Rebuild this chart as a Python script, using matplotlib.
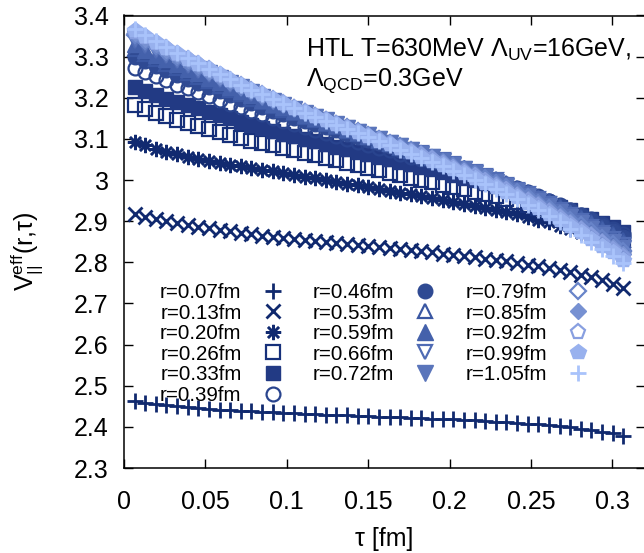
import matplotlib
matplotlib.use("Agg")
import matplotlib.pyplot as plt
import numpy as np

plt.rcParams['font.family'] = ['Liberation Sans', 'DejaVu Sans']
plt.rcParams['mathtext.fontset'] = 'custom'
plt.rcParams['mathtext.rm'] = 'Liberation Sans'
plt.rcParams['mathtext.it'] = 'Liberation Sans'
plt.rcParams['mathtext.bf'] = 'Liberation Sans:bold'

# Euclidean time slices (fm)
tau = [0.0065, 0.0131, 0.0196, 0.0261, 0.0326, 0.0392, 0.0457, 0.0522, 0.0587, 0.0653,
       0.0718, 0.0783, 0.0848, 0.0914, 0.0979, 0.1044, 0.1109, 0.1175, 0.1240, 0.1305,
       0.1370, 0.1436, 0.1501, 0.1566, 0.1631, 0.1697, 0.1762, 0.1827, 0.1892, 0.1958,
       0.2023, 0.2088, 0.2153, 0.2219, 0.2284, 0.2349, 0.2414, 0.2480, 0.2545, 0.2610,
       0.2675, 0.2741, 0.2806, 0.2871, 0.2936, 0.3002, 0.3067]

r_values = [0.07, 0.13, 0.20, 0.26, 0.33, 0.39, 0.46, 0.53, 0.59, 0.66, 0.72, 0.79,
            0.85, 0.92, 0.99, 1.05]

v_r007 = [2.463, 2.459, 2.456, 2.453, 2.450, 2.448, 2.446, 2.444, 2.442, 2.441,
          2.439, 2.438, 2.437, 2.435, 2.434, 2.433, 2.432, 2.431, 2.430, 2.429,
          2.428, 2.427, 2.426, 2.425, 2.424, 2.423, 2.422, 2.421, 2.420, 2.419,
          2.418, 2.417, 2.416, 2.414, 2.413, 2.411, 2.410, 2.408, 2.406, 2.404,
          2.401, 2.399, 2.396, 2.392, 2.388, 2.384, 2.378]
v_r013 = [2.917, 2.910, 2.905, 2.900, 2.895, 2.891, 2.887, 2.883, 2.879, 2.875,
          2.872, 2.868, 2.865, 2.862, 2.859, 2.857, 2.854, 2.852, 2.849, 2.847,
          2.844, 2.842, 2.839, 2.837, 2.834, 2.832, 2.829, 2.827, 2.824, 2.821,
          2.818, 2.815, 2.812, 2.809, 2.806, 2.802, 2.798, 2.794, 2.790, 2.786,
          2.781, 2.776, 2.770, 2.764, 2.757, 2.748, 2.737]
v_r020 = [3.093, 3.084, 3.076, 3.069, 3.063, 3.057, 3.052, 3.047, 3.042, 3.037,
          3.033, 3.029, 3.025, 3.021, 3.017, 3.012, 3.008, 3.004, 3.000, 2.995,
          2.991, 2.987, 2.982, 2.978, 2.974, 2.969, 2.965, 2.960, 2.956, 2.951,
          2.947, 2.942, 2.938, 2.933, 2.928, 2.922, 2.917, 2.911, 2.904, 2.897,
          2.889, 2.881, 2.872, 2.862, 2.851, 2.839, 2.825]
v_r026 = [3.182, 3.172, 3.163, 3.155, 3.147, 3.139, 3.131, 3.124, 3.117, 3.110,
          3.103, 3.096, 3.090, 3.084, 3.078, 3.072, 3.066, 3.060, 3.054, 3.048,
          3.042, 3.036, 3.030, 3.024, 3.018, 3.012, 3.006, 3.000, 2.995, 2.989,
          2.984, 2.978, 2.972, 2.966, 2.960, 2.954, 2.947, 2.940, 2.933, 2.925,
          2.917, 2.908, 2.899, 2.889, 2.878, 2.867, 2.855]
v_r033 = [3.225, 3.216, 3.207, 3.198, 3.190, 3.182, 3.174, 3.166, 3.158, 3.150,
          3.142, 3.134, 3.127, 3.120, 3.113, 3.107, 3.100, 3.094, 3.087, 3.081,
          3.075, 3.069, 3.063, 3.057, 3.050, 3.044, 3.038, 3.032, 3.026, 3.020,
          3.013, 3.006, 2.999, 2.992, 2.985, 2.978, 2.970, 2.962, 2.953, 2.944,
          2.935, 2.926, 2.916, 2.906, 2.896, 2.885, 2.874]
v_r039 = [3.273, 3.262, 3.252, 3.242, 3.232, 3.223, 3.214, 3.205, 3.195, 3.186,
          3.177, 3.168, 3.160, 3.152, 3.144, 3.136, 3.129, 3.121, 3.114, 3.107,
          3.100, 3.093, 3.086, 3.079, 3.072, 3.064, 3.057, 3.050, 3.043, 3.036,
          3.028, 3.020, 3.013, 3.005, 2.996, 2.988, 2.978, 2.969, 2.959, 2.949,
          2.939, 2.928, 2.916, 2.905, 2.893, 2.881, 2.868]
v_r046 = [3.300, 3.289, 3.278, 3.267, 3.256, 3.246, 3.236, 3.226, 3.216, 3.206,
          3.196, 3.187, 3.178, 3.169, 3.161, 3.152, 3.144, 3.136, 3.128, 3.121,
          3.113, 3.105, 3.098, 3.090, 3.082, 3.074, 3.067, 3.059, 3.051, 3.044,
          3.035, 3.027, 3.018, 3.010, 3.001, 2.991, 2.981, 2.971, 2.961, 2.950,
          2.938, 2.927, 2.914, 2.902, 2.889, 2.876, 2.862]
v_r053 = [3.318, 3.306, 3.294, 3.283, 3.272, 3.261, 3.251, 3.240, 3.229, 3.219,
          3.208, 3.198, 3.189, 3.180, 3.171, 3.162, 3.153, 3.145, 3.137, 3.128,
          3.120, 3.112, 3.104, 3.096, 3.088, 3.079, 3.071, 3.063, 3.055, 3.047,
          3.038, 3.029, 3.020, 3.011, 3.002, 2.992, 2.981, 2.971, 2.959, 2.948,
          2.936, 2.923, 2.910, 2.897, 2.884, 2.870, 2.855]
v_r059 = [3.330, 3.317, 3.305, 3.294, 3.282, 3.271, 3.260, 3.249, 3.238, 3.227,
          3.216, 3.206, 3.195, 3.186, 3.177, 3.167, 3.158, 3.150, 3.141, 3.133,
          3.124, 3.116, 3.107, 3.099, 3.090, 3.082, 3.073, 3.065, 3.056, 3.048,
          3.039, 3.029, 3.020, 3.011, 3.001, 2.990, 2.979, 2.968, 2.956, 2.945,
          2.932, 2.919, 2.906, 2.892, 2.878, 2.863, 2.848]
v_r066 = [3.339, 3.326, 3.314, 3.301, 3.289, 3.278, 3.266, 3.255, 3.244, 3.232,
          3.221, 3.210, 3.200, 3.190, 3.181, 3.171, 3.161, 3.153, 3.144, 3.135,
          3.126, 3.118, 3.109, 3.100, 3.091, 3.083, 3.074, 3.065, 3.056, 3.048,
          3.038, 3.028, 3.019, 3.009, 2.999, 2.988, 2.977, 2.965, 2.953, 2.941,
          2.928, 2.915, 2.901, 2.887, 2.872, 2.857, 2.841]
v_r072 = [3.346, 3.333, 3.320, 3.307, 3.295, 3.283, 3.271, 3.260, 3.248, 3.236,
          3.225, 3.214, 3.203, 3.193, 3.183, 3.173, 3.163, 3.154, 3.145, 3.136,
          3.127, 3.118, 3.109, 3.100, 3.091, 3.082, 3.073, 3.064, 3.055, 3.046,
          3.036, 3.027, 3.017, 3.007, 2.996, 2.985, 2.974, 2.962, 2.949, 2.937,
          2.923, 2.910, 2.895, 2.881, 2.866, 2.850, 2.834]
v_r079 = [3.352, 3.338, 3.325, 3.312, 3.299, 3.287, 3.275, 3.263, 3.251, 3.239,
          3.227, 3.216, 3.205, 3.195, 3.185, 3.175, 3.165, 3.155, 3.146, 3.137,
          3.128, 3.119, 3.109, 3.100, 3.091, 3.082, 3.072, 3.063, 3.054, 3.045,
          3.035, 3.024, 3.014, 3.004, 2.993, 2.982, 2.970, 2.958, 2.945, 2.932,
          2.918, 2.904, 2.890, 2.875, 2.859, 2.844, 2.827]
v_r085 = [3.357, 3.343, 3.330, 3.316, 3.303, 3.291, 3.279, 3.266, 3.254, 3.242,
          3.230, 3.218, 3.207, 3.197, 3.186, 3.176, 3.165, 3.156, 3.146, 3.137,
          3.128, 3.118, 3.109, 3.099, 3.090, 3.080, 3.071, 3.062, 3.052, 3.043,
          3.032, 3.022, 3.012, 3.001, 2.990, 2.979, 2.966, 2.954, 2.941, 2.928,
          2.913, 2.899, 2.884, 2.869, 2.853, 2.837, 2.820]
v_r092 = [3.361, 3.347, 3.333, 3.320, 3.306, 3.294, 3.281, 3.269, 3.256, 3.244,
          3.231, 3.219, 3.208, 3.197, 3.187, 3.176, 3.166, 3.156, 3.146, 3.137,
          3.127, 3.117, 3.108, 3.098, 3.088, 3.079, 3.069, 3.060, 3.050, 3.040,
          3.030, 3.019, 3.009, 2.998, 2.986, 2.975, 2.962, 2.950, 2.936, 2.923,
          2.908, 2.894, 2.879, 2.863, 2.847, 2.830, 2.813]
v_r099 = [3.364, 3.349, 3.336, 3.322, 3.308, 3.295, 3.283, 3.270, 3.257, 3.244,
          3.232, 3.220, 3.208, 3.197, 3.187, 3.176, 3.165, 3.155, 3.145, 3.136,
          3.126, 3.116, 3.106, 3.096, 3.087, 3.077, 3.067, 3.057, 3.047, 3.037,
          3.027, 3.016, 3.005, 2.994, 2.983, 2.971, 2.958, 2.945, 2.932, 2.918,
          2.903, 2.888, 2.873, 2.857, 2.840, 2.824, 2.806]
v_r105 = [3.367, 3.352, 3.338, 3.324, 3.310, 3.297, 3.284, 3.271, 3.258, 3.245,
          3.232, 3.220, 3.208, 3.197, 3.186, 3.175, 3.164, 3.154, 3.144, 3.134,
          3.124, 3.114, 3.104, 3.094, 3.084, 3.074, 3.064, 3.054, 3.044, 3.034,
          3.023, 3.012, 3.001, 2.990, 2.978, 2.966, 2.953, 2.940, 2.926, 2.912,
          2.897, 2.882, 2.866, 2.850, 2.833, 2.816, 2.798]

series = [v_r007, v_r013, v_r020, v_r026, v_r033, v_r039, v_r046, v_r053,
          v_r059, v_r066, v_r072, v_r079, v_r085, v_r092, v_r099, v_r105]

colors = ['#10296e', '#10296e', '#112a70', '#16307a', '#223a84', '#29448e',
          '#2f4a93', '#3a57a2', '#4461ab', '#4f6bb4', '#5a75bb', '#6884c9',
          '#7791d2', '#889fe0', '#98b1ee', '#a9c3fb']
# (marker, filled, size, edge width)
styles = [('+', True, 11.5, 2.0), ('x', True, 9.5, 2.0), ((8, 2, 0), True, 11.0, 1.8),
          ('s', False, 9.5, 1.6), ('s', True, 9.5, 1.0), ('o', False, 10.0, 1.6),
          ('o', True, 10.5, 1.0), ('^', False, 10.5, 1.6), ('^', True, 11.0, 1.0),
          ('v', False, 10.5, 1.6), ('v', True, 11.0, 1.0), ('D', False, 7.8, 1.6),
          ('D', True, 8.2, 1.0), ('p', False, 11.0, 1.6), ('p', True, 11.5, 1.0),
          ('+', True, 11.5, 2.0)]

fig = plt.figure(figsize=(6.44, 5.53), dpi=100)
ax = fig.add_axes([124 / 644, 85 / 553, 521 / 644, 452.5 / 553])

for r, vals, col, (mk, filled, ms, mew) in zip(r_values, series, colors, styles):
    ax.plot(tau, vals, linestyle='none', marker=mk, markersize=ms,
            markeredgewidth=mew, color=col, markeredgecolor=col,
            markerfacecolor=col if filled else 'none',
            label=f'r={r:.2f}fm', clip_on=False)

ax.set_xlim(0, 0.32)
ax.set_ylim(2.3, 3.4)
ax.set_xticks([0, 0.05, 0.1, 0.15, 0.2, 0.25, 0.3])
ax.set_yticks([2.3, 2.4, 2.5, 2.6, 2.7, 2.8, 2.9, 3.0, 3.1, 3.2, 3.3, 3.4])
fmt = matplotlib.ticker.FuncFormatter(lambda v, p: f'{v:g}')
ax.xaxis.set_major_formatter(fmt)
ax.yaxis.set_major_formatter(fmt)
ax.tick_params(direction='in', length=6.5, width=1.0, top=True, right=True,
               labelsize=18, colors='black')
ax.tick_params(axis='x', pad=16)
ax.tick_params(axis='y', pad=11)
for s in ax.spines.values():
    s.set_linewidth(1.1)

ax.set_xlabel('τ [fm]', fontsize=18, labelpad=9)
ax.set_ylabel(r'V$_{\mathregular{||}}^{\mathregular{eff}}$(r,τ)', fontsize=18, va='center')
ax.yaxis.set_label_coords(-0.186, 0.48)

fig.text(306 / 644, 1 - 57 / 553, r'HTL T=630MeV Λ$_{\mathregular{UV}}$=16GeV,',
         fontsize=18, ha='left', va='baseline')
fig.text(306 / 644, 1 - 86 / 553, r'Λ$_{\mathregular{QCD}}$=0.3GeV',
         fontsize=18, ha='left', va='baseline')

leg = ax.legend(ncol=3, markerfirst=False, frameon=False, fontsize=14.8,
                handlelength=1.5, handletextpad=0.76, columnspacing=1.2,
                labelspacing=0.075, borderpad=0, borderaxespad=0, numpoints=1,
                loc='upper left', bbox_to_anchor=(160 / 644, 1 - 283 / 553),
                bbox_transform=fig.transFigure)

fig.savefig('out.png', dpi=100)
